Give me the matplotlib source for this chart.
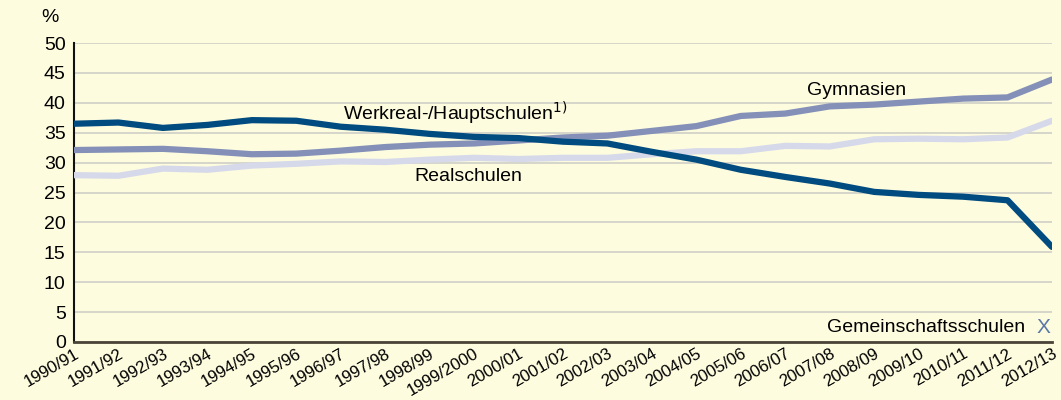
import numpy as np
import matplotlib
matplotlib.use("Agg")
import matplotlib.pyplot as plt

years = ["1990/91", "1991/92", "1992/93", "1993/94", "1994/95", "1995/96",
         "1996/97", "1997/98", "1998/99", "1999/2000", "2000/01", "2001/02",
         "2002/03", "2003/04", "2004/05", "2005/06", "2006/07", "2007/08",
         "2008/09", "2009/10", "2010/11", "2011/12", "2012/13"]

werkreal = [36.5, 36.7, 35.8, 36.3, 37.1, 37.0, 36.0, 35.5, 34.8, 34.3, 34.1,
            33.5, 33.2, 31.8, 30.5, 28.8, 27.6, 26.5, 25.1, 24.6, 24.3, 23.7, 15.9]
gymnasien = [32.1, 32.2, 32.3, 31.9, 31.4, 31.5, 32.0, 32.6, 33.0, 33.2, 33.7,
             34.2, 34.5, 35.3, 36.1, 37.8, 38.2, 39.4, 39.7, 40.2, 40.7, 40.9, 43.9]
realschulen = [27.9, 27.8, 29.0, 28.8, 29.5, 29.8, 30.2, 30.1, 30.5, 30.8, 30.6,
               30.8, 30.8, 31.4, 31.9, 31.9, 32.8, 32.7, 33.9, 34.0, 33.9, 34.2, 37.0]

BG = "#FEFCDF"
plt.rcParams["font.family"] = ["Liberation Sans", "DejaVu Sans"]

fig = plt.figure(figsize=(10.61, 4.0), dpi=100)
fig.patch.set_facecolor(BG)
ax = fig.add_axes([74 / 1061, 58 / 400, 978 / 1061, 299 / 400])
ax.set_facecolor(BG)

x = np.arange(len(years))
ax.plot(x, realschulen, color="#D6D9EA", lw=4.5, solid_capstyle="round", zorder=3)
ax.plot(x, gymnasien, color="#8490B8", lw=4.5, solid_capstyle="round", zorder=4)
ax.plot(x, werkreal, color="#004B7F", lw=4.5, solid_capstyle="round", zorder=5)

ax.set_xlim(0, len(years) - 1)
ax.set_ylim(0, 50)
ax.set_yticks(range(0, 51, 5))
ax.yaxis.grid(True, color="#CFCFC8", lw=1.2)
ax.set_axisbelow(True)
ax.tick_params(axis="y", length=0, labelsize=14, pad=6)
ax.tick_params(axis="x", length=0, labelsize=12.2, pad=3)
ax.set_xticks(x)
ax.set_xticklabels(years, rotation=30, ha="right", rotation_mode="anchor")

ax.spines["top"].set_visible(False)
ax.spines["right"].set_visible(False)
ax.spines["left"].set_color("#111111")
ax.spines["left"].set_linewidth(1.5)
ax.spines["bottom"].set_color("#4A4438")
ax.spines["bottom"].set_linewidth(2)

ax.text(-0.35, 54.3, "%", fontsize=14, ha="right", va="center", clip_on=False)
ax.text(6.05, 38.3, "Werkreal-/Hauptschulen$^{1)}$", fontsize=14, va="center")
ax.text(7.65, 27.6, "Realschulen", fontsize=14, va="center")
ax.text(16.5, 42.0, "Gymnasien", fontsize=14, va="center")
ax.text(21.4, 2.5, "Gemeinschaftsschulen", fontsize=14, ha="right", va="center")
ax.text(21.8, 2.5, "X", fontsize=15, ha="center", va="center", color="#5A78A8")

fig.savefig("out.png", dpi=100, facecolor=BG)
